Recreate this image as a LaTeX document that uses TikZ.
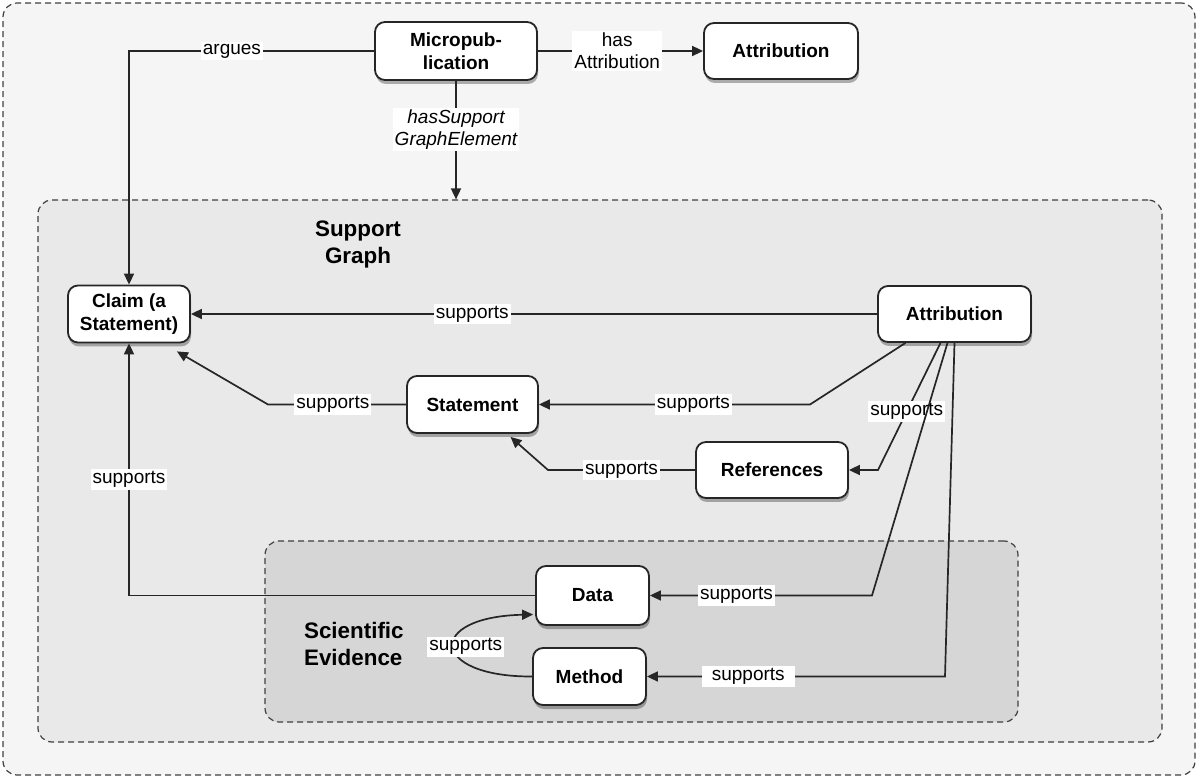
\documentclass[tikz,border=0pt]{standalone}
\usepackage{fontspec}
\setmainfont{Liberation Sans}
\usetikzlibrary{arrows.meta,shadows,calc}
\begin{document}
\begin{tikzpicture}[x=0.5pt,y=-0.5pt,
 box/.style={draw=black!85, line width=0.9pt, rounded corners=5pt, fill=white,
   font=\fontsize{9.5}{11.5}\selectfont\bfseries, align=center, inner sep=2pt,
   drop shadow={shadow xshift=0.5pt, shadow yshift=-2pt, opacity=0.3, fill=black}},
 cont/.style={draw=black!75, dash pattern=on 3pt off 2pt, line width=0.6pt, rounded corners=7pt},
 lbl/.style={fill=white, inner sep=1pt, font=\fontsize{9.5}{11}\selectfont, align=center},
 link/.style={draw=black!85, line width=0.85pt, -{Triangle[length=5.5pt,width=5pt]}},
 title/.style={font=\fontsize{11.2}{13.5}\selectfont\bfseries},
]
\useasboundingbox (0,0) rectangle (1200,780);
% containers
\node[cont, fill=black!4, minimum width=596pt, minimum height=386pt] (outer) at (599,389) {};
\node[cont, fill=black!8.5, minimum width=562pt, minimum height=271pt] (sg) at (600,471) {};
\node[cont, fill=black!16, minimum width=376.5pt, minimum height=90.5pt] (se) at (641.5,631.5) {};
\node[title, align=center] (sgl) at (358,245) {Support\\Graph};
\node[title, align=left, anchor=west] (sel) at (297,644) {Scientific\\Evidence};
% nodes
\node[box, minimum width=81pt, minimum height=29pt] (mp) at (456,51) {Micropub-\\lication};
\node[box, minimum width=77pt, minimum height=28pt] (at1) at (781,51) {Attribution};
\node[box, minimum width=61pt, minimum height=28.5pt] (claim) at (129,314) {Claim (a\\Statement)};
\node[box, minimum width=76.5pt, minimum height=28pt] (at2) at (954.5,314) {Attribution};
\node[box, minimum width=65.5pt, minimum height=28.5pt] (stmt) at (472.5,404.5) {Statement};
\node[box, minimum width=76pt, minimum height=28pt] (refs) at (772,470) {References};
\node[box, minimum width=56.5pt, minimum height=29.5pt] (data) at (592.5,595.5) {Data};
\node[box, minimum width=56.5pt, minimum height=28.5pt] (meth) at (589.5,676.5) {Method};
% edges
\draw[link] (mp.west) -| node[lbl,pos=0.29]{argues} (claim.north);
\draw[link] (mp.east) -- node[lbl,pos=0.48]{has\\Attribution} (at1.west);
\draw[link] (mp.south) -- node[lbl,pos=0.41,font=\fontsize{9.5}{11}\selectfont\itshape]{hasSupport\\GraphElement} (mp.south |- sg.north);
\draw[link] (at2.west) -- node[lbl,pos=0.59]{supports} (claim.east);
\draw[link] ($(at2.south)+(-49,0)$) -- (810,404.5) -- node[lbl,pos=0.43]{supports} (stmt.east);
\draw[link] (stmt.west) -- node[lbl,pos=0.53]{supports} (268,404.5) -- ($(claim.south east)+(-14,8)$);
\draw[link] (refs.west) -- node[lbl,pos=0.5]{supports} (548,470) -- ($(stmt.south)+(38,3)$);
\draw[link] ($(at2.south)+(-14,0)$) -- node[lbl,pos=0.54]{supports} (878,470) -- (refs.east);
\draw[link] ($(at2.south)+(-7,0)$) -- (872,595.5) -- node[lbl,pos=0.61]{supports} (data.east);
\draw[link] (at2.south) -- (945,676.5) -- node[lbl,pos=0.66,inner xsep=5pt]{supports} (meth.east);
\draw[link] (data.west) -| node[lbl,pos=0.73]{supports} (claim.south);
\draw[link] (meth.west) .. controls (430,677) and (425,617) .. node[lbl,pos=0.5,xshift=6pt]{supports} ($(data.west)+(-2,19)$);
\end{tikzpicture}
\end{document}
